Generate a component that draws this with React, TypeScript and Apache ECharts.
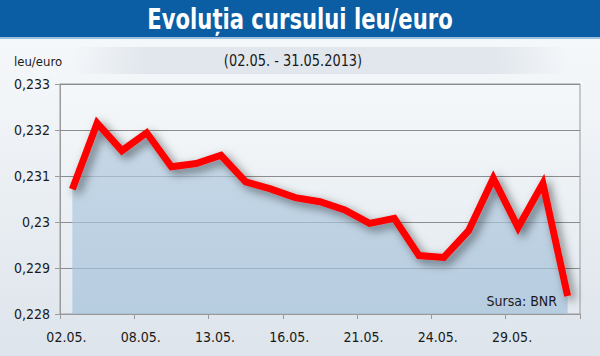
import React, { useEffect, useRef } from "react";
import * as echarts from "echarts";

const titleText = "Evoluția cursului leu/euro";
const subtitleText = "(02.05. - 31.05.2013)";
const unitText = "leu/euro";
const sourceText = "Sursa: BNR";

const dates = [
  "02.05.", "03.05.", "07.05.", "08.05.", "09.05.", "10.05.", "13.05.",
  "14.05.", "15.05.", "16.05.", "17.05.", "20.05.", "21.05.", "22.05.",
  "23.05.", "24.05.", "27.05.", "28.05.", "29.05.", "30.05.", "31.05.",
];
const rates = [
  0.23071, 0.23215, 0.23155, 0.23194, 0.2312, 0.23127, 0.23145,
  0.23087, 0.23072, 0.23053, 0.23044, 0.23026, 0.22997, 0.23008,
  0.22927, 0.22923, 0.22981, 0.23095, 0.22988, 0.23084, 0.22839,
];
const yMin = 0.228;
const yMax = 0.233;
const yStep = 0.001;

const NARROW = "'Liberation Sans Narrow', 'DejaVu Sans Condensed', 'Arial Narrow', sans-serif";

export default function App() {
  const ref = useRef<HTMLDivElement>(null);
  useEffect(() => {
    if (!ref.current) return;
    const chart = echarts.init(ref.current, null, { renderer: "svg" });
    chart.setOption({
      animation: false,
      backgroundColor: "transparent",
      grid: {
        left: 60,
        right: 20,
        top: 84,
        bottom: 42,
        show: true,
        borderWidth: 1,
        borderColor: "#9a9a9a",
        backgroundColor: new echarts.graphic.LinearGradient(0, 0, 0, 1, [
          { offset: 0, color: "#f5f8fa" },
          { offset: 1, color: "#e2e9ef" },
        ]),
      },
      xAxis: {
        type: "category",
        data: dates,
        boundaryGap: true,
        axisLine: { lineStyle: { color: "#9a9a9a", width: 1 } },
        axisTick: { show: true, interval: 2, length: 5, lineStyle: { color: "#9a9a9a" } },
        axisLabel: {
          interval: 2,
          margin: 16,
          color: "#1a1a1a",
          fontSize: 14,
          fontFamily: NARROW,
          padding: [0, 12, 0, 0],
        },
        splitLine: { show: false },
      },
      yAxis: {
        type: "value",
        min: yMin,
        max: yMax,
        interval: yStep,
        axisLine: { show: true, lineStyle: { color: "#9a9a9a", width: 1 } },
        axisTick: { show: true, length: 5, lineStyle: { color: "#9a9a9a" } },
        axisLabel: {
          margin: 10,
          color: "#1a1a1a",
          fontSize: 14,
          fontFamily: NARROW,
          formatter: (v: number) => String(parseFloat(v.toFixed(3))).replace(".", ","),
        },
        splitLine: { show: true, lineStyle: { color: "#8c8c8c", width: 1 } },
      },
      series: [
        {
          type: "line",
          data: rates,
          symbol: "none",
          lineStyle: {
            color: "#ff0000",
            width: 7,
            join: "miter",
            shadowColor: "rgba(0,0,0,0.5)",
            shadowBlur: 10,
            shadowOffsetX: 4,
            shadowOffsetY: 4,
          },
          areaStyle: {
            origin: "start",
            color: new echarts.graphic.LinearGradient(0, 0, 0, 1, [
              { offset: 0, color: "#b6cde1" },
              { offset: 1, color: "#a4c0d9" },
            ]),
          },
        },
      ],
      graphic: [
        {
          type: "rect",
          z: -1,
          shape: { x: 0, y: 0, width: 600, height: 37 },
          style: { fill: "#0b5ea3" },
        },
        {
          type: "rect",
          z: -1,
          shape: { x: 0, y: 37, width: 600, height: 2 },
          style: { fill: "#9cc0dd" },
        },
        {
          type: "rect",
          z: -1,
          shape: { x: 70, y: 47, width: 500, height: 27 },
          style: {
            fill: new echarts.graphic.LinearGradient(0, 0, 1, 0, [
              { offset: 0, color: "rgba(222,228,235,0)" },
              { offset: 0.15, color: "rgba(222,228,235,0.85)" },
              { offset: 0.85, color: "rgba(222,228,235,0.85)" },
              { offset: 1, color: "rgba(222,228,235,0)" },
            ]),
          },
        },
        {
          type: "text",
          x: 300,
          y: 19,
          scaleX: 0.84,
          style: {
            text: titleText,
            fill: "#ffffff",
            font: `bold 28px ${NARROW}`,
            align: "center",
            verticalAlign: "middle",
          },
        },
        {
          type: "text",
          x: 293,
          y: 61,
          scaleX: 0.9,
          style: {
            text: subtitleText,
            fill: "#1a1a1a",
            font: `16px ${NARROW}`,
            align: "center",
            verticalAlign: "middle",
          },
        },
        {
          type: "text",
          x: 14,
          y: 61,
          style: {
            text: unitText,
            fill: "#1a1a1a",
            font: `13px ${NARROW}`,
            align: "left",
            verticalAlign: "middle",
          },
        },
        {
          type: "text",
          x: 557,
          y: 301,
          z: 10,
          style: {
            text: sourceText,
            fill: "#1a1a1a",
            font: `14px ${NARROW}`,
            align: "right",
            verticalAlign: "middle",
          },
        },
      ],
    });
    return () => chart.dispose();
  }, []);
  return (
    <div
      style={{
        position: "absolute",
        left: 0,
        top: 0,
        width: 600,
        height: 356,
        background: "linear-gradient(to bottom, #f7f9fb 0px, #f3f6f9 80px, #dde4eb 356px)",
      }}
    >
      <div ref={ref} style={{ width: 600, height: 356 }} />
    </div>
  );
}
